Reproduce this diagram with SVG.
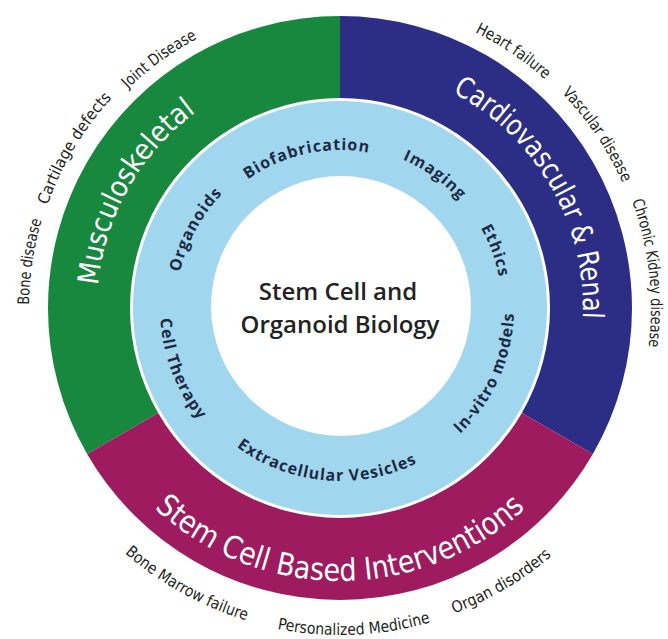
<svg xmlns="http://www.w3.org/2000/svg" xmlns:xlink="http://www.w3.org/1999/xlink" width="668" height="639" viewBox="0 0 668 639">
<style>
.ring{font-family:"DejaVu Sans","Liberation Sans",sans-serif;font-stretch:condensed;fill:#ffffff;}
.outer{font-family:"DejaVu Sans","Liberation Sans",sans-serif;font-stretch:condensed;fill:#231f20;font-size:16px;}
.inner{font-family:"Open Sans","DejaVu Sans",sans-serif;font-weight:700;fill:#1c2a44;font-size:16px;letter-spacing:1px;}
.center{font-family:"Open Sans","DejaVu Sans",sans-serif;font-weight:600;fill:#222222;font-size:24px;}
</style>
<defs>
<path id="pMus" d="M185.43,495.5 A243,243 0 0 1 421.11,78.95"/>
<path id="pCar" d="M256.89,79.65 A243,243 0 0 1 496.2,494.14"/>
<path id="pStem" d="M71.15,355.41 A273,273 0 0 0 608.85,355.41"/>
<path id="pJoint" d="M65.87,441.71 A305,305 0 0 1 551.88,88.61"/>
<path id="pCart" d="M136.61,541.96 A310,310 0 0 1 451.1,18.58"/>
<path id="pBone" d="M241.32,602.92 A311,311 0 0 1 331.86,-2.89"/>
<path id="pHeart" d="M119.17,94.73 A307,307 0 0 1 620.46,432.86"/>
<path id="pVasc" d="M214.33,25.73 A309,309 0 0 1 554.66,530.26"/>
<path id="pChron" d="M358.99,-2.42 A311,311 0 0 1 428.32,606.19"/>
<path id="pBMF" d="M31.76,201.86 A326,326 0 0 0 593.35,513.16"/>
<path id="pPers" d="M20.75,378.78 A327,327 0 0 0 664.2,350.68"/>
<path id="pOrgD" d="M92.11,519.72 A326,326 0 0 0 645.35,193.83"/>
<path id="pOrg" d="M237.91,436.35 A164,164 0 0 1 392.04,152.48"/>
<path id="pBio" d="M182.15,314.89 A158,158 0 0 1 485.97,247.54"/>
<path id="pImg" d="M227.16,193.16 A161,161 0 0 1 485.32,377.31"/>
<path id="pEth" d="M311.31,148.56 A162,162 0 0 1 421.49,448.02"/>
<path id="pVit" d="M297.91,476.83 A174,174 0 0 0 437.3,163.75"/>
<path id="pExt" d="M167.66,323.08 A173,173 0 0 0 507.11,352.78"/>
<path id="pCell" d="M247.29,153.71 A180,180 0 0 0 374.35,484.69"/>
</defs>
<rect width="668" height="639" fill="#ffffff"/>
<g id="seg-musculoskeletal">
<path d="M87.12,454 A292,292 0 0 1 340,16 L340,98 A210,210 0 0 0 158.13,413 Z" fill="#17883d"/>
<text class="ring" font-size="29"><textPath xlink:href="#pMus" href="#pMus" startOffset="50%" text-anchor="middle" textLength="205" lengthAdjust="spacingAndGlyphs">Musculoskeletal</textPath></text>
</g>
<g id="seg-cardio">
<path d="M340,16 A292,292 0 0 1 592.88,454 L521.87,413 A210,210 0 0 0 340,98 Z" fill="#2c2e86"/>
<text class="ring" font-size="29"><textPath xlink:href="#pCar" href="#pCar" startOffset="50%" text-anchor="middle" textLength="275" lengthAdjust="spacingAndGlyphs">Cardiovascular &amp; Renal</textPath></text>
</g>
<g id="seg-interventions">
<path d="M592.88,454 A292,292 0 0 1 87.12,454 L158.13,413 A210,210 0 0 0 521.87,413 Z" fill="#9d1b5e"/>
<text class="ring" font-size="31"><textPath xlink:href="#pStem" href="#pStem" startOffset="50%" text-anchor="middle" textLength="408" lengthAdjust="spacingAndGlyphs">Stem Cell Based Interventions</textPath></text>
</g>
<g id="inner-ring">
<circle cx="340" cy="308" r="207" fill="#a1d6ef"/>
<text class="inner"><textPath xlink:href="#pOrg" href="#pOrg" startOffset="50%" text-anchor="middle">Organoids</textPath></text>
<text class="inner"><textPath xlink:href="#pBio" href="#pBio" startOffset="50%" text-anchor="middle">Biofabrication</textPath></text>
<text class="inner"><textPath xlink:href="#pImg" href="#pImg" startOffset="50%" text-anchor="middle">Imaging</textPath></text>
<text class="inner"><textPath xlink:href="#pEth" href="#pEth" startOffset="50%" text-anchor="middle">Ethics</textPath></text>
<text class="inner"><textPath xlink:href="#pVit" href="#pVit" startOffset="50%" text-anchor="middle">In-vitro models</textPath></text>
<text class="inner"><textPath xlink:href="#pExt" href="#pExt" startOffset="50%" text-anchor="middle">Extracellular Vesicles</textPath></text>
<text class="inner"><textPath xlink:href="#pCell" href="#pCell" startOffset="50%" text-anchor="middle">Cell Therapy</textPath></text>
</g>
<g id="center">
<circle cx="341" cy="306" r="130" fill="#ffffff"/>
<text class="center" x="338" y="300" text-anchor="middle">Stem Cell and</text>
<text class="center" x="340" y="333" text-anchor="middle">Organoid Biology</text>
</g>
<g id="outer-labels">
<text class="outer"><textPath xlink:href="#pBone" href="#pBone" startOffset="50%" text-anchor="middle" textLength="86" lengthAdjust="spacingAndGlyphs">Bone disease</textPath></text>
<text class="outer"><textPath xlink:href="#pCart" href="#pCart" startOffset="50%" text-anchor="middle" textLength="126" lengthAdjust="spacingAndGlyphs">Cartilage defects</textPath></text>
<text class="outer"><textPath xlink:href="#pJoint" href="#pJoint" startOffset="50%" text-anchor="middle" textLength="86" lengthAdjust="spacingAndGlyphs">Joint Disease</textPath></text>
<text class="outer"><textPath xlink:href="#pHeart" href="#pHeart" startOffset="50%" text-anchor="middle" textLength="85" lengthAdjust="spacingAndGlyphs">Heart failure</textPath></text>
<text class="outer"><textPath xlink:href="#pVasc" href="#pVasc" startOffset="50%" text-anchor="middle" textLength="109" lengthAdjust="spacingAndGlyphs">Vascular disease</textPath></text>
<text class="outer"><textPath xlink:href="#pChron" href="#pChron" startOffset="50%" text-anchor="middle" textLength="148" lengthAdjust="spacingAndGlyphs">Chronic Kidney disease</textPath></text>
<text class="outer"><textPath xlink:href="#pBMF" href="#pBMF" startOffset="50%" text-anchor="middle" textLength="140" lengthAdjust="spacingAndGlyphs">Bone Marrow failure</textPath></text>
<text class="outer"><textPath xlink:href="#pPers" href="#pPers" startOffset="50%" text-anchor="middle" textLength="155" lengthAdjust="spacingAndGlyphs">Personalized Medicine</textPath></text>
<text class="outer"><textPath xlink:href="#pOrgD" href="#pOrgD" startOffset="50%" text-anchor="middle" textLength="114" lengthAdjust="spacingAndGlyphs">Organ disorders</textPath></text>
</g>
</svg>
